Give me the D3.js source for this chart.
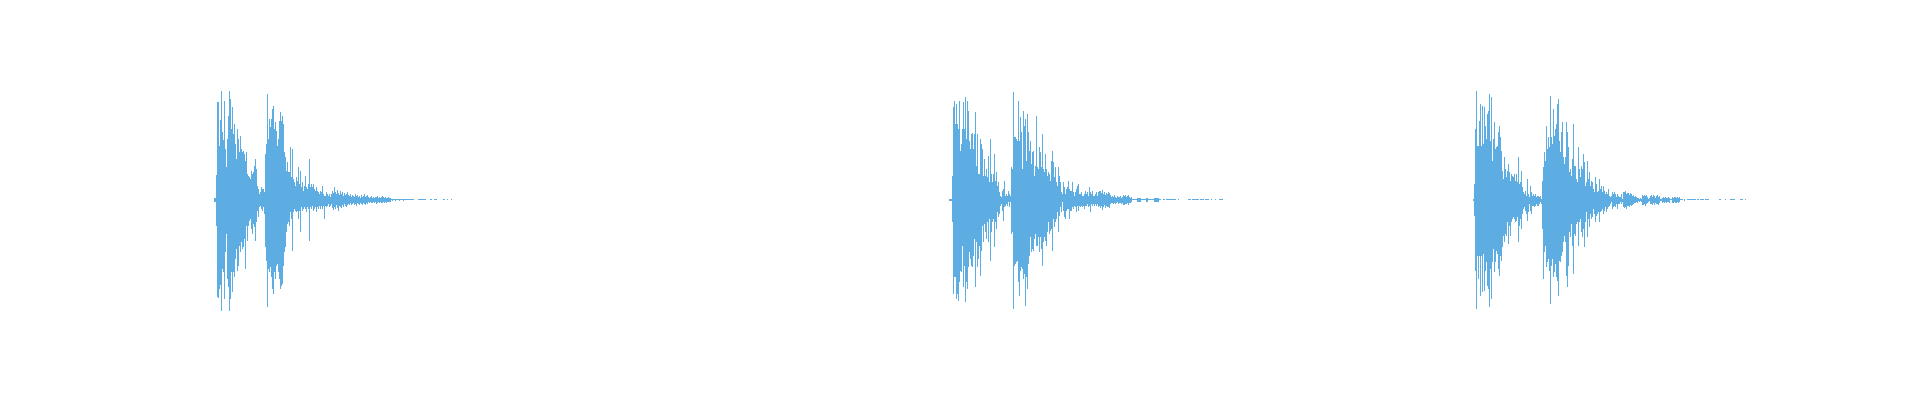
<!DOCTYPE html>
<html>
<head>
<meta charset="utf-8">
<script src="https://cdn.jsdelivr.net/npm/d3@7"></script>
<style>
  html, body { margin: 0; padding: 0; background: #fff; }
  svg { display: block; }
</style>
</head>
<body>
<div id="container"></div>
<script>
// Waveform peaks, one column per 5 ms. Each burst keeps its start time and
// the positive (top) and negative (bottom) peak level of every column.
const STEP = 0.005;
const DURATION = 9.6;
const LEVEL_MAX = 112;

const burstStarts = [1.070, 4.745, 7.365];

const burst1Top = [
  2, 2, 25, 98, 98, 54, 80, 109, 68, 60, 99, 51, 33, 61, 84, 109, 101, 71, 93, 66,
  76, 56, 41, 71, 61, 48, 64, 51, 48, 49, 46, 39, 48, 26, 24, 23, 21, 29, 26, 28,
  34, 41, 31, 14, 11, 6, 8, 13, 11, 11, 8, 46, 56, 106, 61, 81, 73, 81, 91, 94,
  71, 78, 69, 54, 61, 79, 88, 79, 84, 76, 48, 43, 29, 38, 28, 28, 53, 23, 51, 21,
  18, 14, 23, 19, 33, 16, 29, 13, 18, 9, 14, 24, 13, 11, 16, 41, 13, 16, 13, 16,
  11, 9, 13, 9, 8, 6, 9, 8, 14, 6, 4, 4, 8, 6, 4, 6, 3, 6,
  // tail
  9, 7, 13, 8, 6, 10, 7, 5, 9, 6, 8, 4, 7, 5, 6, 8,
  5, 4, 6, 3, 5, 4, 3, 6, 4, 5, 3, 4, 2, 5, 3, 4, 6, 3, 4, 5,
  3, 2, 3, 4, 2, 3, 2, 3, 3, 4, 2, 3, 2, 3, 4, 3, 2, 3, 2, 2, 3, 2, 2,
  1, 0.5, 1, 0.5, 0.5, 1, 0.5, 0.5, 0.5, 1, 0.5, 0.5, 0.5, 0.5, 0.5, 1, 0.5, 0.5, 0.5, 0.5, 0.5, 0.5, 0.5,
  0, 0, 0, 0, 0.5, 0.5, 0.5, 0.5, 0.5, 0.5, 0.5, 0.5, 0, 0, 0, 0, 0.5, 0.5, 0, 0,
  0.5, 0.5, 0.5, 0, 0, 0, 0, 0, 0, 0.5, 0.5, 0, 0, 0.5, 0, 0, 0, 0.5
];
const burst1Bottom = [
  2, 2, 26, 97, 98, 89, 85, 111, 69, 72, 99, 52, 34, 79, 87, 111, 99, 72, 92, 72,
  77, 59, 49, 71, 66, 46, 52, 42, 49, 47, 39, 69, 26, 41, 26, 21, 19, 29, 34, 24,
  27, 41, 22, 11, 17, 7, 6, 9, 11, 7, 14, 47, 61, 107, 69, 72, 67, 77, 89, 94,
  72, 79, 66, 64, 72, 79, 89, 86, 84, 66, 52, 47, 32, 24, 22, 26, 12, 19, 51, 12,
  9, 11, 12, 11, 19, 11, 32, 7, 11, 9, 7, 9, 12, 7, 9, 41, 7, 9, 6, 11,
  9, 7, 12, 7, 9, 6, 9, 6, 9, 6, 19, 6, 7, 6, 4, 7, 6, 4,
  // tail
  8, 10, 7, 9, 5, 8, 11, 6, 7, 8, 5, 7, 4, 6, 7, 5,
  4, 5, 3, 5, 4, 3, 5, 4, 6, 3, 4, 5, 3, 4, 5, 3, 4, 5, 3, 4,
  2, 3, 2, 3, 3, 2, 3, 2, 4, 3, 2, 3, 2, 3, 3, 2, 3, 2, 3, 2, 2, 2, 2,
  0.5, 1, 0.5, 0.5, 1, 0.5, 0.5, 0.5, 1, 0.5, 0.5, 0.5, 1, 0.5, 0.5, 0.5, 0.5, 0.5, 0.5, 0.5, 0.5, 0.5, 0.5,
  0, 0, 0, 0, 0.5, 0.5, 0.5, 0.5, 0.5, 0.5, 0.5, 0.5, 0, 0, 0, 0, 0.5, 0.5, 0, 0,
  0.5, 0.5, 0.5, 0, 0, 0, 0, 0, 0, 0.5, 0.5, 0, 0, 0.5, 0, 0, 0, 0.5
];

const burst2Top = [
  1, 1, 1, 24, 93, 99, 76, 96, 76, 71, 99, 49, 56, 71, 98, 71, 103, 61, 99, 89,
  59, 51, 66, 67, 51, 66, 88, 34, 66, 26, 26, 61, 56, 51, 24, 41, 24, 31, 23, 44,
  18, 61, 26, 18, 26, 46, 19, 28, 14, 18, 8, 4, 3, 9, 11, 19, 4, 6, 4, 9,
  6, 4, 33, 31, 108, 63, 63, 61, 59, 99, 59, 83, 68, 31, 89, 74, 81, 39, 86, 68,
  49, 59, 36, 48, 49, 24, 34, 84, 33, 31, 53, 48, 33, 66, 31, 28, 46, 31, 24, 28,
  26, 19, 39, 49, 38, 23, 33, 18, 14, 33, 24, 18, 8, 6, 18, 13, 6, 11, 13, 19,
  11, 9, 9, 18, 8, 4, 8, 11, 14, 16, 6, 6, 8, 4, 4, 6, 9, 6, 8, 4,
  13, 8, 6, 9, 4, 4, 6, 8, 4, 8, 9,
  // tail
  9, 7, 10, 6, 8, 5, 7, 6, 8, 7, 5,
  3, 4, 3, 5, 3, 2, 4, 3, 3, 4, 2, 3, 5, 4, 5, 3, 4, 5, 3, 2, 3,
  0.5, 0.5, 0.5, 0.5, 0.5, 2, 2, 2, 2, 0.5, 0.5, 0.5, 0.5, 0.5, 2, 2, 0.5, 0.5, 0.5, 0.5,
  0.5, 0.5, 2, 2, 2, 2, 2, 0.5, 0.5, 0, 0,
  0.5, 0.5, 0, 0.5, 0.5, 0.5, 0.5, 0.5, 0.5, 0.5, 0.5, 0.5, 0.5, 0, 0, 0.5,
  0, 0, 0, 0, 0, 0, 0, 0, 0, 0.5, 0.5, 0.5, 0, 0.5, 0.5, 0.5, 0.5, 0.5, 0.5, 0.5,
  0, 0.5, 0.5, 0.5, 0.5, 0, 0.5, 0.5, 0.5, 0.5, 0, 0, 0.5, 0, 0, 0, 0.5, 0, 0, 0,
  0.5, 0.5, 0.5, 0.5
];
const burst2Bottom = [
  1, 1, 1, 22, 94, 77, 77, 99, 94, 101, 82, 71, 72, 46, 87, 66, 102, 82, 89, 67,
  52, 59, 66, 67, 56, 39, 87, 42, 67, 59, 46, 76, 51, 26, 42, 24, 32, 39, 22, 42,
  19, 61, 32, 22, 19, 47, 22, 29, 12, 17, 14, 6, 4, 11, 21, 7, 6, 4, 6, 2,
  7, 2, 34, 32, 109, 66, 64, 62, 61, 82, 96, 71, 67, 69, 79, 74, 106, 77, 89, 64,
  56, 37, 52, 49, 51, 39, 34, 46, 46, 37, 52, 37, 49, 66, 42, 37, 41, 46, 32, 22,
  34, 31, 29, 51, 19, 27, 22, 19, 12, 32, 16, 7, 12, 2, 11, 17, 19, 11, 9, 9,
  19, 11, 11, 7, 9, 6, 7, 12, 6, 11, 6, 7, 6, 7, 6, 9, 6, 6, 4, 7,
  6, 12, 4, 6, 4, 6, 4, 6, 4, 7, 6,
  // tail
  8, 6, 10, 7, 5, 8, 6, 7, 7, 8, 4,
  3, 3, 4, 3, 4, 3, 2, 4, 3, 3, 4, 3, 5, 5, 4, 4, 3, 5, 3, 3, 2,
  0.5, 0.5, 0.5, 0.5, 0.5, 2, 2, 2, 2, 0.5, 0.5, 0.5, 0.5, 0.5, 2, 2, 0.5, 0.5, 0.5, 0.5,
  0.5, 0.5, 2, 2, 2, 2, 2, 0.5, 0.5, 0, 0,
  0.5, 0.5, 0, 0.5, 0.5, 0.5, 0.5, 0.5, 0.5, 0.5, 0.5, 0.5, 0.5, 0, 0, 0.5,
  0, 0, 0, 0, 0, 0, 0, 0, 0, 0.5, 0.5, 0.5, 0, 0.5, 0.5, 0.5, 0.5, 0.5, 0.5, 0.5,
  0, 0.5, 0.5, 0.5, 0.5, 0, 0.5, 0.5, 0.5, 0.5, 0, 0, 0.5, 0, 0, 0, 0.5, 0, 0, 0,
  0.5, 0.5, 0.5, 0.5
];

const burst3Top = [
  1, 16, 71, 109, 54, 54, 79, 96, 54, 94, 56, 93, 74, 61, 86, 89, 106, 59, 103, 39,
  61, 78, 51, 53, 54, 68, 74, 63, 49, 29, 21, 43, 31, 23, 29, 36, 28, 19, 26, 24,
  23, 26, 19, 26, 18, 43, 16, 18, 29, 13, 8, 6, 9, 4, 21, 6, 3, 14, 8, 4,
  6, 4, 6, 3, 4, 4, 3, 4, 1, 19, 33, 48, 39, 74, 51, 63, 53, 104, 63, 56,
  91, 64, 71, 76, 96, 101, 59, 48, 68, 78, 43, 36, 43, 78, 68, 53, 28, 31, 24, 41,
  76, 34, 34, 21, 18, 53, 31, 23, 34, 31, 46, 38, 14, 18, 39, 21, 28, 14, 19, 18,
  11, 8, 23, 16, 8, 9, 21, 11, 14, 8, 14, 9, 6, 8, 6, 11, 4, 3, 4, 8,
  6, 8, 6, 3, 6, 4, 3, 3, 6, 1, 8,
  // tail
  8, 9, 6, 7,
  7, 5, 7, 6, 4, 5, 3, 4, 3, 2,
  2, 1, 2, 1,
  5, 4, 5, 4, 5, 3,
  1, 2,
  4, 5, 3, 5, 4, 2, 4, 5, 3, 4,
  1, 1,
  2, 3, 2, 3, 2, 2, 3, 2,
  0.5, 0.5,
  3, 2, 3, 3, 2, 3, 2, 3,
  0.5, 0.5, 0.5, 0, 1, 0, 0,
  0.5, 0.5, 0.5, 0.5, 0.5, 0.5, 0.5, 0.5, 0.5, 0, 0.5, 0.5, 0, 0.5, 0.5, 0.5, 0.5, 0,
  0.5, 0.5, 0.5, 0.5, 0, 0, 0, 0, 0, 0, 0, 0, 0, 0, 0.5, 0.5, 0, 0, 0, 0,
  0.5, 0, 0, 0, 0, 0.5, 0.5, 0.5, 0.5, 0.5, 0, 0, 0, 0, 0, 0.5, 0.5, 0.5, 0, 0, 0.5
];
const burst3Bottom = [
  1, 16, 71, 109, 56, 79, 56, 96, 56, 92, 54, 91, 71, 62, 86, 89, 107, 69, 99, 62,
  49, 72, 62, 51, 54, 69, 76, 56, 61, 47, 36, 42, 34, 36, 22, 44, 26, 36, 22, 19,
  17, 19, 22, 21, 17, 42, 26, 19, 29, 14, 9, 7, 11, 14, 21, 12, 4, 11, 14, 6,
  6, 7, 6, 4, 6, 6, 4, 2, 4, 29, 79, 52, 46, 67, 62, 59, 71, 104, 66, 59,
  77, 72, 64, 77, 81, 96, 61, 62, 56, 52, 42, 36, 42, 76, 87, 66, 32, 37, 24, 46,
  74, 34, 36, 24, 22, 46, 22, 19, 32, 37, 29, 47, 22, 12, 37, 19, 27, 14, 19, 17,
  9, 14, 22, 16, 14, 12, 22, 12, 11, 9, 14, 11, 7, 12, 9, 7, 6, 4, 2, 9,
  7, 6, 7, 4, 9, 4, 4, 2, 4, 2, 7,
  // tail
  8, 7, 9, 6,
  6, 7, 5, 6, 5, 4, 3, 3, 2, 3,
  1, 2, 1, 2,
  5, 5, 4, 6, 4, 3,
  2, 1,
  4, 4, 5, 3, 5, 3, 4, 4, 5, 3,
  1, 1,
  3, 2, 3, 2, 3, 2, 2, 3,
  0.5, 0.5,
  3, 3, 2, 3, 3, 2, 3, 2,
  0.5, 0.5, 0.5, 0, 1, 0, 0,
  0.5, 0.5, 0.5, 0.5, 0.5, 0.5, 0.5, 0.5, 0.5, 0, 0.5, 0.5, 0, 0.5, 0.5, 0.5, 0.5, 0,
  0.5, 0.5, 0.5, 0.5, 0, 0, 0, 0, 0, 0, 0, 0, 0, 0, 0.5, 0.5, 0, 0, 0, 0,
  0.5, 0, 0, 0, 0, 0.5, 0.5, 0.5, 0.5, 0.5, 0, 0, 0, 0, 0, 0.5, 0.5, 0.5, 0, 0, 0.5
];

const WIDTH = 1920;
const HEIGHT = 400;
const WAVE_COLOR = '#5dade2';

const svg = d3.select('#container').append('svg')
  .attr('width', WIDTH)
  .attr('height', HEIGHT);

svg.append('rect')
  .attr('width', WIDTH)
  .attr('height', HEIGHT)
  .style('fill', '#fff');

const x = d3.scaleLinear().domain([0, DURATION]).range([0, WIDTH]);
const y = d3.scaleLinear().domain([-LEVEL_MAX, LEVEL_MAX]).range([311.5, 87.5]);

const bursts = [
  { start: burstStarts[0], top: burst1Top, bottom: burst1Bottom },
  { start: burstStarts[1], top: burst2Top, bottom: burst2Bottom },
  { start: burstStarts[2], top: burst3Top, bottom: burst3Bottom }
];

// flatten every burst into one list of columns, dropping silent ones
const columns = [];
bursts.forEach(b => {
  b.top.forEach((t, i) => {
    const lo = b.bottom[i] || 0;
    if (t + lo <= 0) return;
    columns.push({ t: b.start + i * STEP, hi: t, lo: lo });
  });
});

const colWidth = x(STEP) - x(0);

svg.append('g')
  .attr('class', 'wave')
  .selectAll('rect')
  .data(columns)
  .join('rect')
  .attr('x', d => x(d.t))
  .attr('y', d => y(d.hi))
  .attr('width', colWidth)
  .attr('height', d => Math.max(1, y(-d.lo) - y(d.hi)))
  .attr('shape-rendering', 'crispEdges')
  .style('fill', WAVE_COLOR);
</script>
</body>
</html>
